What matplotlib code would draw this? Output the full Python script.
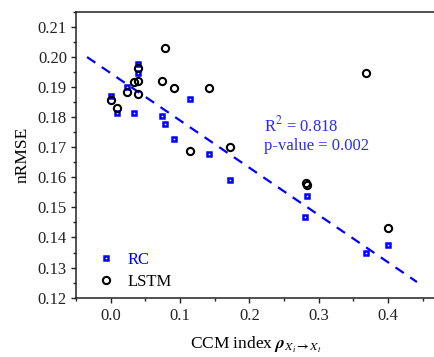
import matplotlib
matplotlib.use("Agg")
import matplotlib.pyplot as plt
import numpy as np
from matplotlib.ticker import MultipleLocator

plt.rcParams['font.family'] = ['Liberation Serif', 'DejaVu Serif']
plt.rcParams['mathtext.fontset'] = 'stix'

# RC data
rc_x = [0.000, 0.009, 0.023, 0.034, 0.0397, 0.0397, 0.0743, 0.079, 0.092, 0.1145,
        0.142, 0.1717, 0.2806, 0.2835, 0.369, 0.400]
rc_y = [0.1871, 0.1812, 0.1899, 0.1812, 0.1976, 0.1947, 0.1802, 0.1777, 0.1728, 0.1861,
        0.1677, 0.1591, 0.1468, 0.1537, 0.1349, 0.1374]

# LSTM data
lstm_x = [0.000, 0.009, 0.023, 0.034, 0.0397, 0.0397, 0.0397, 0.0743, 0.079, 0.0915,
          0.1145, 0.142, 0.1717, 0.2815, 0.2835, 0.369, 0.400]
lstm_y = [0.1856, 0.1831, 0.1882, 0.1916, 0.1921, 0.1876, 0.1964, 0.1921, 0.2030, 0.1895,
          0.1687, 0.1895, 0.1701, 0.1580, 0.1575, 0.1948, 0.1432]

# Linear fit line
fit_slope = -0.157
fit_intercept = 0.1946
fit_x_range = [-0.034, 0.442]

r2_text = 'R$^2$ = 0.818'
p_text = 'p-value = 0.002'

fig = plt.figure(figsize=(4.35, 3.57), dpi=100)
ax = fig.add_axes([0.1747, 0.1661, 0.8253, 0.8011])

fx = np.array(fit_x_range)
ax.plot(fx, fit_intercept + fit_slope * fx, color='blue', lw=1.6,
        dashes=(4.5, 3.5), zorder=1)

ax.plot(rc_x, rc_y, ls='none', marker='s', ms=3.3, mfc='white', mec='blue',
        mew=1.8, label='RC', zorder=3)
ax.plot(lstm_x, lstm_y, ls='none', marker='o', ms=5.2, mfc='none', mec='black',
        mew=1.5, label='LSTM', zorder=4)

ax.set_xlim(-0.05, 0.468)
ax.set_ylim(0.12, 0.215)
ax.xaxis.set_major_locator(MultipleLocator(0.1))
ax.xaxis.set_minor_locator(MultipleLocator(0.05))
ax.yaxis.set_major_locator(MultipleLocator(0.01))
ax.yaxis.set_minor_locator(MultipleLocator(0.005))
ax.set_xticks([0.0, 0.1, 0.2, 0.3, 0.4])
ax.set_xticklabels(['0.0', '0.1', '0.2', '0.3', '0.4'])
ax.tick_params(which='major', direction='out', length=3.5, width=1, labelsize=12,
               colors='#222222', pad=3)
ax.tick_params(which='minor', direction='out', length=2, width=1, colors='#222222')
ax.tick_params(axis='x', pad=4)
for s in ['left', 'bottom', 'top']:
    ax.spines[s].set_linewidth(1.1)
    ax.spines[s].set_color('#222222')
ax.spines['right'].set_visible(False)

ax.set_ylabel('nRMSE', fontsize=12.5, labelpad=5)
ax.set_xlabel(r'CCM index $\boldsymbol{\rho}_{\boldsymbol{X_i\rightarrow X_t}}$',
              fontsize=12.5, labelpad=8)

ax.text(0.2206, 0.1773, r2_text, color='#2a2aff', fontsize=12, va='center')
ax.text(0.2206, 0.1704, p_text, color='#2a2aff', fontsize=12, va='center')

leg = ax.legend(loc='lower left', bbox_to_anchor=(0.013, -0.025), frameon=False,
                numpoints=1, handlelength=1.2, handletextpad=0.7, fontsize=12,
                labelspacing=0.38, labelcolor=['blue', 'black'])

fig.savefig('out.png', dpi=100)
